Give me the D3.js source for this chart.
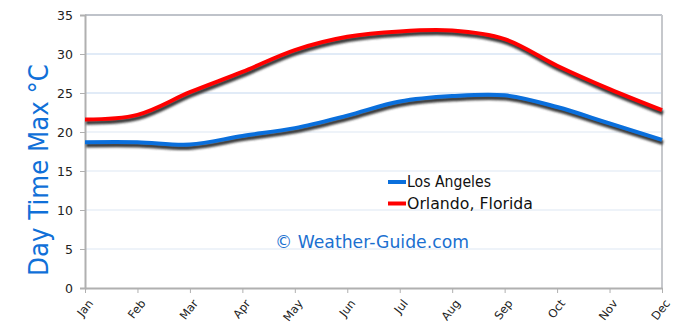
<!DOCTYPE html>
<html><head><meta charset="utf-8">
<script src="https://cdn.jsdelivr.net/npm/d3@7"></script>
<style>html,body{margin:0;padding:0;background:#fff;}svg{display:block;}</style>
</head><body>
<script>
const months = ["Jan","Feb","Mar","Apr","May","Jun","Jul","Aug","Sep","Oct","Nov","Dec"];
const losAngeles = [18.7,18.7,18.4,19.5,20.5,22.1,23.9,24.6,24.7,23.2,21.1,19.0];
const orlando = [21.6,22.2,25.1,27.7,30.5,32.2,32.9,33.0,31.9,28.5,25.5,22.8];
const yTicks = [0,5,10,15,20,25,30,35];
const seriesNames = ["Los Angeles","Orlando, Florida"];
const seriesColors = ["#0a6fdc","#ff0000"];

const W=690,H=327;
const m={left:85,right:28,top:15,bottom:39};
const svg=d3.select("body").append("svg").attr("width",W).attr("height",H);
const defs=svg.append("defs");
defs.append("filter").attr("id","blur").attr("x","-5%").attr("y","-20%").attr("width","110%").attr("height","140%")
  .append("feGaussianBlur").attr("stdDeviation",1.1);

const x=d3.scalePoint().domain(months).range([m.left,W-m.right]);
const y=d3.scaleLinear().domain([0,35]).range([H-m.bottom,m.top]);

// gridlines
svg.append("g").selectAll("line").data(yTicks.filter(t=>t>0&&t<35)).join("line")
  .attr("x1",m.left).attr("x2",W-m.right).attr("y1",d=>y(d)).attr("y2",d=>y(d))
  .attr("stroke",d=>d>=25?"#c4d8f0":"#dde7f4").attr("stroke-width",1.2);

// frame top/right
svg.append("line").attr("x1",m.left).attr("x2",W-m.right).attr("y1",y(35)).attr("y2",y(35)).attr("stroke","#bfc3ca").attr("stroke-width",2);
svg.append("line").attr("x1",W-m.right).attr("x2",W-m.right).attr("y1",y(35)).attr("y2",y(0)).attr("stroke","#c6c8cc").attr("stroke-width",2);

// y axis
const ya=svg.append("g").attr("transform",`translate(${m.left},0)`)
  .call(d3.axisLeft(y).tickValues(yTicks).tickSize(5).tickPadding(7));
ya.select(".domain").attr("stroke","#b0b0b0").attr("stroke-width",2);
ya.selectAll(".tick line").attr("stroke","#b0b0b0");
ya.selectAll("text").attr("font-family","'DejaVu Sans',sans-serif").attr("font-size",12.5).attr("fill","#222");

// x axis
const xa=svg.append("g").attr("transform",`translate(0,${y(0)})`)
  .call(d3.axisBottom(x).tickSize(5).tickSizeOuter(0));
xa.select(".domain").attr("stroke","#b0b0b0").attr("stroke-width",2);
xa.selectAll(".tick line").attr("stroke","#b0b0b0");
xa.selectAll("text").attr("font-family","'DejaVu Sans',sans-serif").attr("font-size",11.5).attr("fill","#222")
  .attr("text-anchor","end").attr("dy","0.35em").attr("y",0)
  .attr("transform","translate(5,13) rotate(-52)");

// lines
const line=d3.line().x((d,i)=>x(months[i])).y(d=>y(d)).curve(d3.curveCatmullRom.alpha(0.5));
const all=[losAngeles,orlando];
all.forEach((s,k)=>{
  svg.append("path").attr("d",line(s)).attr("fill","none").attr("stroke","#3a3a3a")
    .attr("stroke-width",4.5).attr("transform","translate(1,3)").attr("filter","url(#blur)");
  svg.append("path").attr("d",line(s)).attr("fill","none").attr("stroke",seriesColors[k])
    .attr("stroke-width",4).attr("stroke-linejoin","round");
});

// legend
const lg=svg.append("g");
lg.append("rect").attr("x",377).attr("y",172).attr("width",168).attr("height",37).attr("fill","#fff");
seriesNames.forEach((n,i)=>{
  const yy=182+i*21.5;
  lg.append("line").attr("x1",388).attr("x2",406).attr("y1",yy).attr("y2",yy).attr("stroke",seriesColors[i]).attr("stroke-width",4);
  lg.append("text").attr("x",407).attr("y",yy+5).text(n)
    .attr("font-family","'Comic Sans MS','DejaVu Sans',sans-serif").attr("font-size",15).attr("fill","#111")
    .attr("textLength",i?126:84).attr("lengthAdjust","spacingAndGlyphs");
});

// watermark
svg.append("text").attr("x",275).attr("y",248).text("© Weather-Guide.com")
  .attr("font-family","'DejaVu Sans',sans-serif").attr("font-size",17).attr("fill","#1a6fd0")
  .attr("textLength",194).attr("lengthAdjust","spacingAndGlyphs");

// y title
svg.append("text").attr("transform","translate(48,170) rotate(-90)").attr("text-anchor","middle")
  .text("Day Time Max °C").attr("font-family","'DejaVu Sans',sans-serif").attr("font-size",26)
  .attr("fill","#1070d8").attr("textLength",212).attr("lengthAdjust","spacingAndGlyphs");
</script>
</body></html>
